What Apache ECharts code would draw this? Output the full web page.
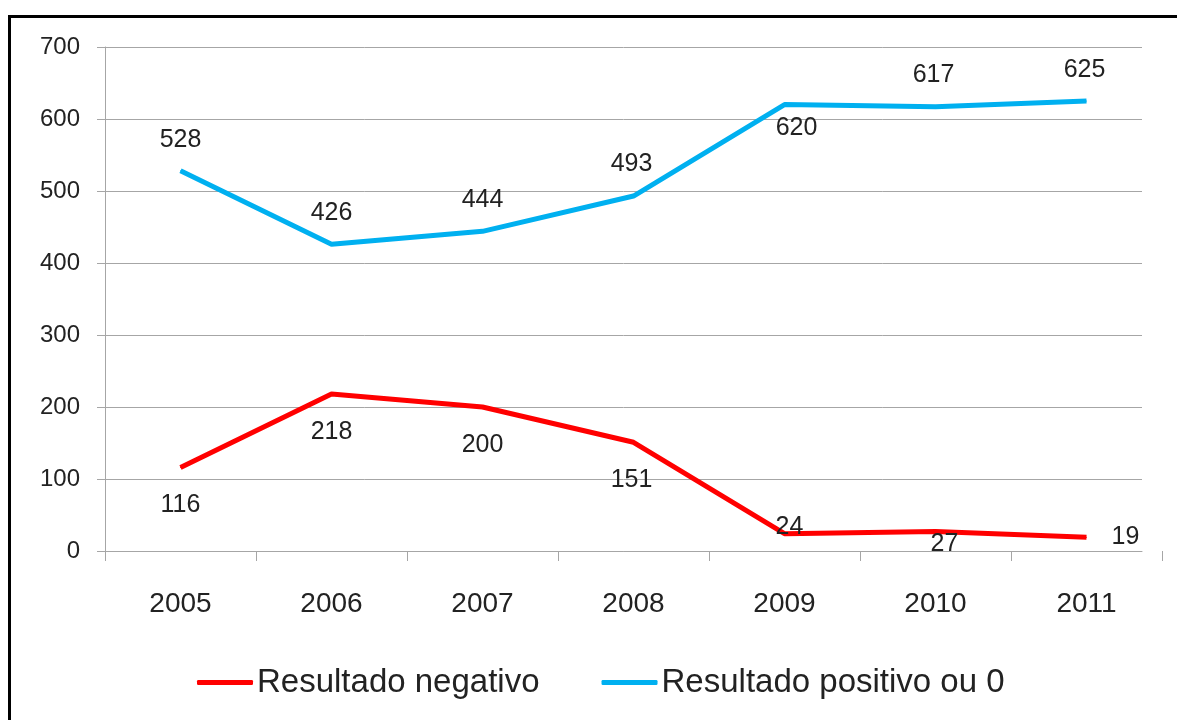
<!doctype html>
<html lang="pt">
<head>
	<meta charset="UTF-8">
	<title>Resultado</title>
	<style>
		html, body { margin: 0; padding: 0; background: #fff; }
		#chart { position: absolute; left: 0; top: 0; width: 1177px; height: 720px; }
		#frame { position: absolute; left: 8px; top: 15px; right: 0; bottom: 0;
			border-left: 3px solid #000; border-top: 3px solid #000; pointer-events: none; }
	</style>
</head>
<body>
<div id="chart"></div>
<div id="frame"></div>
<script src="https://cdn.jsdelivr.net/npm/echarts@6/dist/echarts.min.js"></script>
<script>
	// dados
	var anos = ['2005', '2006', '2007', '2008', '2009', '2010', '2011'];
	var negativo = [116, 218, 200, 151, 24, 27, 19];
	var positivo = [528, 426, 444, 493, 620, 617, 625];
	var yTicks = [0, 100, 200, 300, 400, 500, 600, 700];

	// deslocamento dos rótulos em relação ao ponto (px)
	var offNeg = [[0, 38], [0, 38], [0, 38], [-2, 38], [5, -7], [9, 13], [39, 0]];
	var offPos = [[0, -31], [0, -31], [0, -31], [-2, -32], [12, 24], [-2, -32], [-2, -31]];

	var fonte = '"Liberation Sans", Arial, sans-serif';
	var cinza = '#a6a6a6';

	function pontos(vals, offs) {
		return vals.map(function (v, i) {
			return { value: v, label: { offset: offs[i] } };
		});
	}

	var myChart = echarts.init(document.getElementById('chart'));
	var option = {
		animation: false,
		textStyle: { fontFamily: fonte },
		grid: [
			{ left: 105, right: 15, top: 47, bottom: 169 },   // séries e rótulos dos anos
			{ left: 105, right: 35, top: 47, bottom: 169 }    // linhas de grade
		],
		xAxis: [{
			type: 'category',
			gridIndex: 0,
			data: anos,
			boundaryGap: true,
			axisLine: { show: false },
			axisTick: { show: true, length: 10, lineStyle: { color: cinza, width: 1 } },
			axisLabel: { margin: 39, fontSize: 28, color: '#222', fontFamily: fonte }
		}, {
			type: 'category',
			gridIndex: 1,
			data: anos,
			axisLine: { show: true, lineStyle: { color: cinza, width: 1 } },
			axisTick: { show: false },
			axisLabel: { show: false }
		}],
		yAxis: [{
			type: 'value',
			gridIndex: 0,
			min: yTicks[0],
			max: yTicks[yTicks.length - 1],
			interval: 100,
			show: false
		}, {
			type: 'value',
			gridIndex: 1,
			min: yTicks[0],
			max: yTicks[yTicks.length - 1],
			interval: 100,
			axisLine: { show: true, lineStyle: { color: cinza, width: 1 } },
			axisTick: { show: true, length: 8, lineStyle: { color: cinza, width: 1 } },
			splitLine: { show: true, lineStyle: { color: cinza, width: 1 } },
			axisLabel: { margin: 25, fontSize: 24, color: '#222', fontFamily: fonte, padding: [2, 0, 0, 0] }
		}],
		legend: {
			left: 192,
			top: 661,
			icon: 'roundRect',
			itemWidth: 56,
			itemHeight: 5,
			itemGap: 62,
			textStyle: { fontSize: 33, color: '#222', fontFamily: fonte, padding: [0, 0, 0, -1] },
			data: ['Resultado negativo', 'Resultado positivo ou 0']
		},
		series: [{
			name: 'Resultado negativo',
			type: 'line',
			xAxisIndex: 0,
			yAxisIndex: 0,
			data: pontos(negativo, offNeg),
			symbol: 'circle',
			symbolSize: 1,
			showSymbol: true,
			itemStyle: { color: '#ff0000' },
			lineStyle: { color: '#ff0000', width: 5 },
			label: { show: true, position: 'inside', fontSize: 25, color: '#222', fontFamily: fonte }
		}, {
			name: 'Resultado positivo ou 0',
			type: 'line',
			xAxisIndex: 0,
			yAxisIndex: 0,
			data: pontos(positivo, offPos),
			symbol: 'circle',
			symbolSize: 1,
			showSymbol: true,
			itemStyle: { color: '#00b0f0' },
			lineStyle: { color: '#00b0f0', width: 5 },
			label: { show: true, position: 'inside', fontSize: 25, color: '#222', fontFamily: fonte }
		}]
	};
	myChart.setOption(option);
</script>
</body>
</html>
